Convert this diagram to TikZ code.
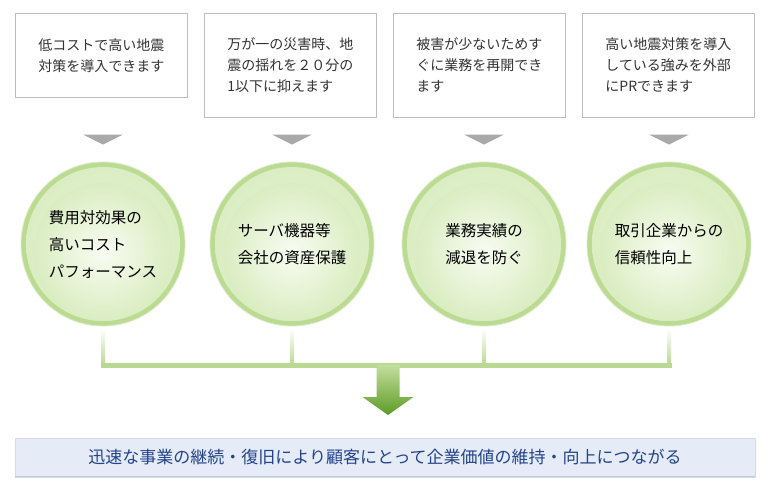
\documentclass[tikz,border=0pt]{standalone}
\usepackage{fontspec}
\newfontfamily\jpfont{Noto Sans CJK JP}
\usepackage{xcolor}
\usetikzlibrary{calc, positioning}
\definecolor{boxgray}{HTML}{BDBDBD}
\definecolor{textgray}{HTML}{333333}
\definecolor{markgray}{HTML}{A9A9A9}
\definecolor{rimgreen}{HTML}{BBDB92}
\definecolor{paleinner}{HTML}{F8FCF2}
\definecolor{paleouter}{HTML}{DAEDC1}
\definecolor{stemgreen}{HTML}{B9D891}
\definecolor{arrowtop}{HTML}{C3DE9E}
\definecolor{arrowbottom}{HTML}{5E9B26}
\definecolor{outcomefill}{HTML}{E5ECF8}
\definecolor{outcomeline}{HTML}{D3DAE6}
\definecolor{outcometext}{HTML}{24438A}

\begin{document}
\begin{tikzpicture}[x=1pt, y=-1pt,
    notebox/.style={draw=boxgray, fill=white, line width=0.8pt, anchor=north west,
      align=left, minimum width=172pt, inner sep=0pt, text=textgray,
      font=\jpfont\fontsize{14}{21}\selectfont},
    dropmark/.style={fill=markgray},
    merit/.style={circle, minimum size=164pt, inner sep=0pt, fill=rimgreen,
      draw=white!45!rimgreen, line width=0.8pt, align=left, text=black,
      font=\jpfont\fontsize{15.5}{27}\selectfont,
      path picture={
        \shade[inner color=white!30!paleouter, outer color=paleouter]
          (path picture bounding box.center) circle (77pt);
        \shade[inner color=paleinner, outer color=paleouter]
          ($(path picture bounding box.center)+(0,-8pt)$) circle (69pt);}},
    stemshade/.style={top color=white, bottom color=stemgreen},
    barline/.style={stemgreen, line width=5pt, line cap=rect},
    bigarrow/.style={top color=arrowtop, bottom color=arrowbottom},
    outcome/.style={fill=outcomefill, draw=outcomeline, line width=0.6pt,
      minimum width=740pt, minimum height=39pt, text=outcometext,
      font=\jpfont\fontsize{17}{20}\selectfont}]
  \useasboundingbox (0,0) rectangle (771,495);
  % notes on top
  \node[notebox, minimum height=84pt] (note1) at (15,13)
    {低コストで高い地震\\対策を導入できます};
  \node[notebox, minimum height=104pt] (note2) at (204,13)
    {万が一の災害時、地\\震の揺れを２０分の\\1以下に抑えます};
  \node[notebox, minimum height=104pt] (note3) at (393,13)
    {被害が少ないためす\\ぐに業務を再開でき\\ます};
  \node[notebox, minimum height=104pt] (note4) at (582,13)
    {高い地震対策を導入\\している強みを外部\\にPRできます};
  % merit circles
  \node[merit] (merit1) at (103,244) {費用対効果の\\高いコスト\\パフォーマンス};
  \node[merit] (merit2) at (292,244) {サーバ機器等\\会社の資産保護};
  \node[merit] (merit3) at (484,244) {業務実績の\\減退を防ぐ};
  \node[merit] (merit4) at (669,244) {取引企業からの\\信頼性向上};
  % gray marks between notes and circles
  \fill[dropmark] ($(merit1.north)+(-20,-27)$) -- ($(merit1.north)+(20,-27)$) -- ($(merit1.north)+(0,-17)$) -- cycle;
  \fill[dropmark] ($(merit2.north)+(-20,-27)$) -- ($(merit2.north)+(20,-27)$) -- ($(merit2.north)+(0,-17)$) -- cycle;
  \fill[dropmark] ($(merit3.north)+(-20,-27)$) -- ($(merit3.north)+(20,-27)$) -- ($(merit3.north)+(0,-17)$) -- cycle;
  \fill[dropmark] ($(merit4.north)+(-20,-27)$) -- ($(merit4.north)+(20,-27)$) -- ($(merit4.north)+(0,-17)$) -- cycle;
  % stems and bar
  \coordinate (bar) at (0,365.5);
  \shade[stemshade] ($(merit1.south)+(-2,2)$) rectangle ($(merit1.south |- bar)+(2,0)$);
  \shade[stemshade] ($(merit2.south)+(-2,2)$) rectangle ($(merit2.south |- bar)+(2,0)$);
  \shade[stemshade] ($(merit3.south)+(-2,2)$) rectangle ($(merit3.south |- bar)+(2,0)$);
  \shade[stemshade] ($(merit4.south)+(-2,2)$) rectangle ($(merit4.south |- bar)+(2,0)$);
  \draw[barline] (merit1.south |- bar) -- (merit4.south |- bar);
  % outcome
  \node[outcome] (outcome) at (385,457.5)
    {迅速な事業の継続・復旧により顧客にとって企業価値の維持・向上につながる};
  \draw[outcomeline!85!gray, line width=1.2pt] ($(outcome.south west)+(0,-0.6)$) -- ($(outcome.south east)+(0,-0.6)$);
  % big arrow
  \coordinate (join) at (388,365);
  \shade[bigarrow] ($(join)+(-11.5,0)$) -- ($(join)+(11.5,0)$) -- ($(join)+(11.5,32)$)
    -- ($(join)+(25.5,32)$) -- ($(join)+(0,50)$) -- ($(join)+(-25.5,32)$)
    -- ($(join)+(-11.5,32)$) -- cycle;
\end{tikzpicture}
\end{document}
